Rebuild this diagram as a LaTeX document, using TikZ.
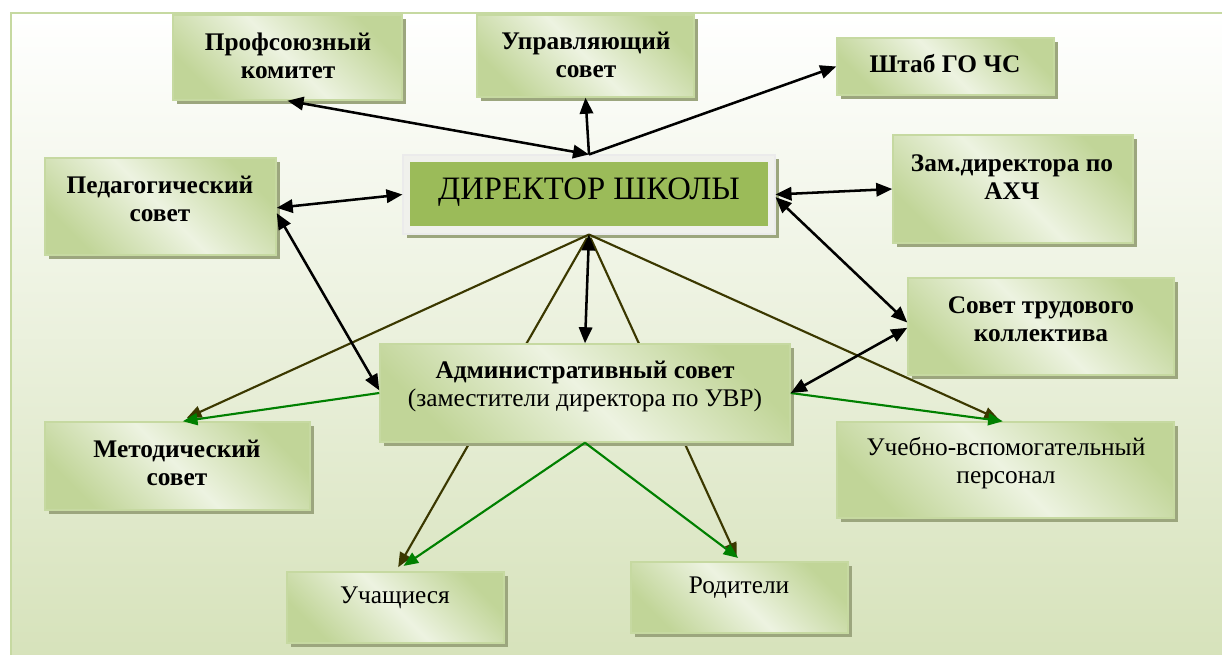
\documentclass[tikz,border=0pt]{standalone}
\usepackage{fontspec}
\setmainfont{Liberation Serif}
\usetikzlibrary{arrows.meta,fit,shadows,calc}
\definecolor{gEnd}{HTML}{C1D598}
\definecolor{gMid}{HTML}{EDF3E1}
\definecolor{gBrd}{HTML}{C6D9A1}
\definecolor{shd}{HTML}{9CA67E}
\definecolor{dirG}{HTML}{9BBB59}
\definecolor{dirF}{HTML}{F0F1EC}
\definecolor{oliv}{HTML}{3B3800}
\definecolor{grn}{HTML}{008000}
\definecolor{bgBot}{HTML}{D6E2BA}
\pgfdeclarelayer{bg}
\pgfdeclarelayer{lines}
\pgfsetlayers{bg,lines,main}
\tikzset{
  box/.style={draw=gBrd, line width=1.1pt, top color=gEnd, bottom color=gEnd,
    middle color=gMid, shading angle=135, inner sep=0pt,
    general shadow={fill=shd, shadow xshift=3.2pt, shadow yshift=-3.2pt}},
  bt/.style={font=\fontsize{19}{21}\selectfont\bfseries, align=center, inner sep=0pt},
  rt/.style={font=\fontsize{19}{21}\selectfont, align=center, inner sep=0pt},
  blk/.style={line width=1.9pt, black, >={Triangle[length=12pt,width=10pt]}},
  olv/.style={line width=1.6pt, oliv, ->, >={Triangle[length=11pt,width=9pt]}},
  grl/.style={line width=1.6pt, grn, ->, >={Triangle[length=11pt,width=9pt]}},
}
\begin{document}
\begin{tikzpicture}[x=0.75pt, y=-0.75pt]
\useasboundingbox (0,0) rectangle (1222,655);
\begin{pgfonlayer}{bg}
  \fill[white] (0,0) rectangle (1222,655);
  \shade[top color=white, bottom color=bgBot] (11,13) rectangle (1230,665);
  \draw[gBrd, line width=1.6pt] (11,665) -- (11,13) -- (1230,13);
\end{pgfonlayer}

% boxes
\node[box, fit={(173,15)(402,100)}] (prof) {};
\node[box, fit={(477,15)(694,97)}] (upr) {};
\node[box, fit={(837,38)(1054,95)}] (shtab) {};
\node[box, fit={(45,158)(276,255)}] (ped) {};
\node[draw=white!92!black, line width=0.8pt, fill=dirF, inner sep=0pt,
  general shadow={fill=shd, shadow xshift=3.2pt, shadow yshift=-3.2pt},
  fit={(403,155)(775,234)}] (dirframe) {};
\node[fill=dirG, inner sep=0pt, fit={(410,162)(768,226)}] (dirbox) {};
\node[box, fit={(893,135)(1133,243)}] (akh) {};
\node[box, fit={(908,278)(1174,375)}] (stk) {};
\node[box, fit={(380,344)(790,442)}] (adm) {};
\node[box, fit={(45,422)(310,510)}] (met) {};
\node[box, fit={(837,422)(1174,518)}] (uvp) {};
\node[box, fit={(287,572)(504,643)}] (uch) {};
\node[box, fit={(631,562)(848,633)}] (rod) {};

% texts
\node[bt] (prof-t) at (288,56) {Профсоюзный\\комитет};
\node[bt] (upr-t) at (586,55) {Управляющий\\совет};
\node[bt] (shtab-t) at (945,64) {Штаб ГО ЧС};
\node[bt] (ped-t) at (160,199) {Педагогический\\совет};
\node[font=\fontsize{24.5}{28}\selectfont, inner sep=0pt] (dir) at (589,192) {ДИРЕКТОР ШКОЛЫ};
\node[bt] (akh-t) at (1012,177) {Зам.директора по\\АХЧ};
\node[bt] (stk-t) at (1041,319) {Совет трудового\\коллектива};
\node[rt] (adm-t) at (585,386) {\textbf{Административный совет}\\(заместители директора по УВР)};
\node[bt] (met-t) at (177,463) {Методический\\совет};
\node[rt] (uvp-t) at (1006,463) {Учебно-вспомогательный\\персонал};
\node[rt] (uch-t) at (395,598) {Учащиеся};
\node[rt] (rod-t) at (739,588) {Родители};

% olive lines passing behind the administrative council box
\begin{pgfonlayer}{lines}
  \draw[olv] (dirframe.south) -- ([xshift=2pt,yshift=3pt]uch.north);
  \draw[olv] (dirframe.south) -- ([xshift=-2pt,yshift=3pt]rod.north);
\end{pgfonlayer}

% olive lines
\draw[olv] (dirframe.south) -- ([xshift=7pt,yshift=2.5pt]met.north);
\draw[olv] (dirframe.south) -- ([xshift=-5pt,yshift=1.5pt]uvp.north);

% green lines
\draw[grl] (adm.west) -- ([xshift=4pt]met.north);
\draw[grl] (adm.east) -- ([xshift=-2pt]uvp.north);
\draw[grl] (adm.south) -- ([xshift=6pt,yshift=4pt]uch.north);
\draw[grl] (adm.south) -- ([xshift=-1pt,yshift=2.5pt]rod.north);

% black connectors
\draw[blk,<->] (prof.south) -- (dirframe.north);
\draw[blk,->] (dirframe.north) -- (upr.south);
\draw[blk,->] (dirframe.north) -- (shtab.west);
\draw[blk,<->] ([yshift=-1pt]ped.east) -- (dirframe.west);
\draw[blk,<->] (dirframe.east) -- (akh.west);
\draw[blk,<->] ([yshift=-2pt]dirframe.east) -- ([yshift=3pt]stk.west);
\draw[blk,<->] ([yshift=-1pt]stk.west) -- (adm.east);
\draw[blk,<->] ([yshift=-5pt]ped.east) -- ([yshift=2pt]adm.west);
\draw[blk,<->] (dirframe.south) -- (adm.north);
\end{tikzpicture}
\end{document}
